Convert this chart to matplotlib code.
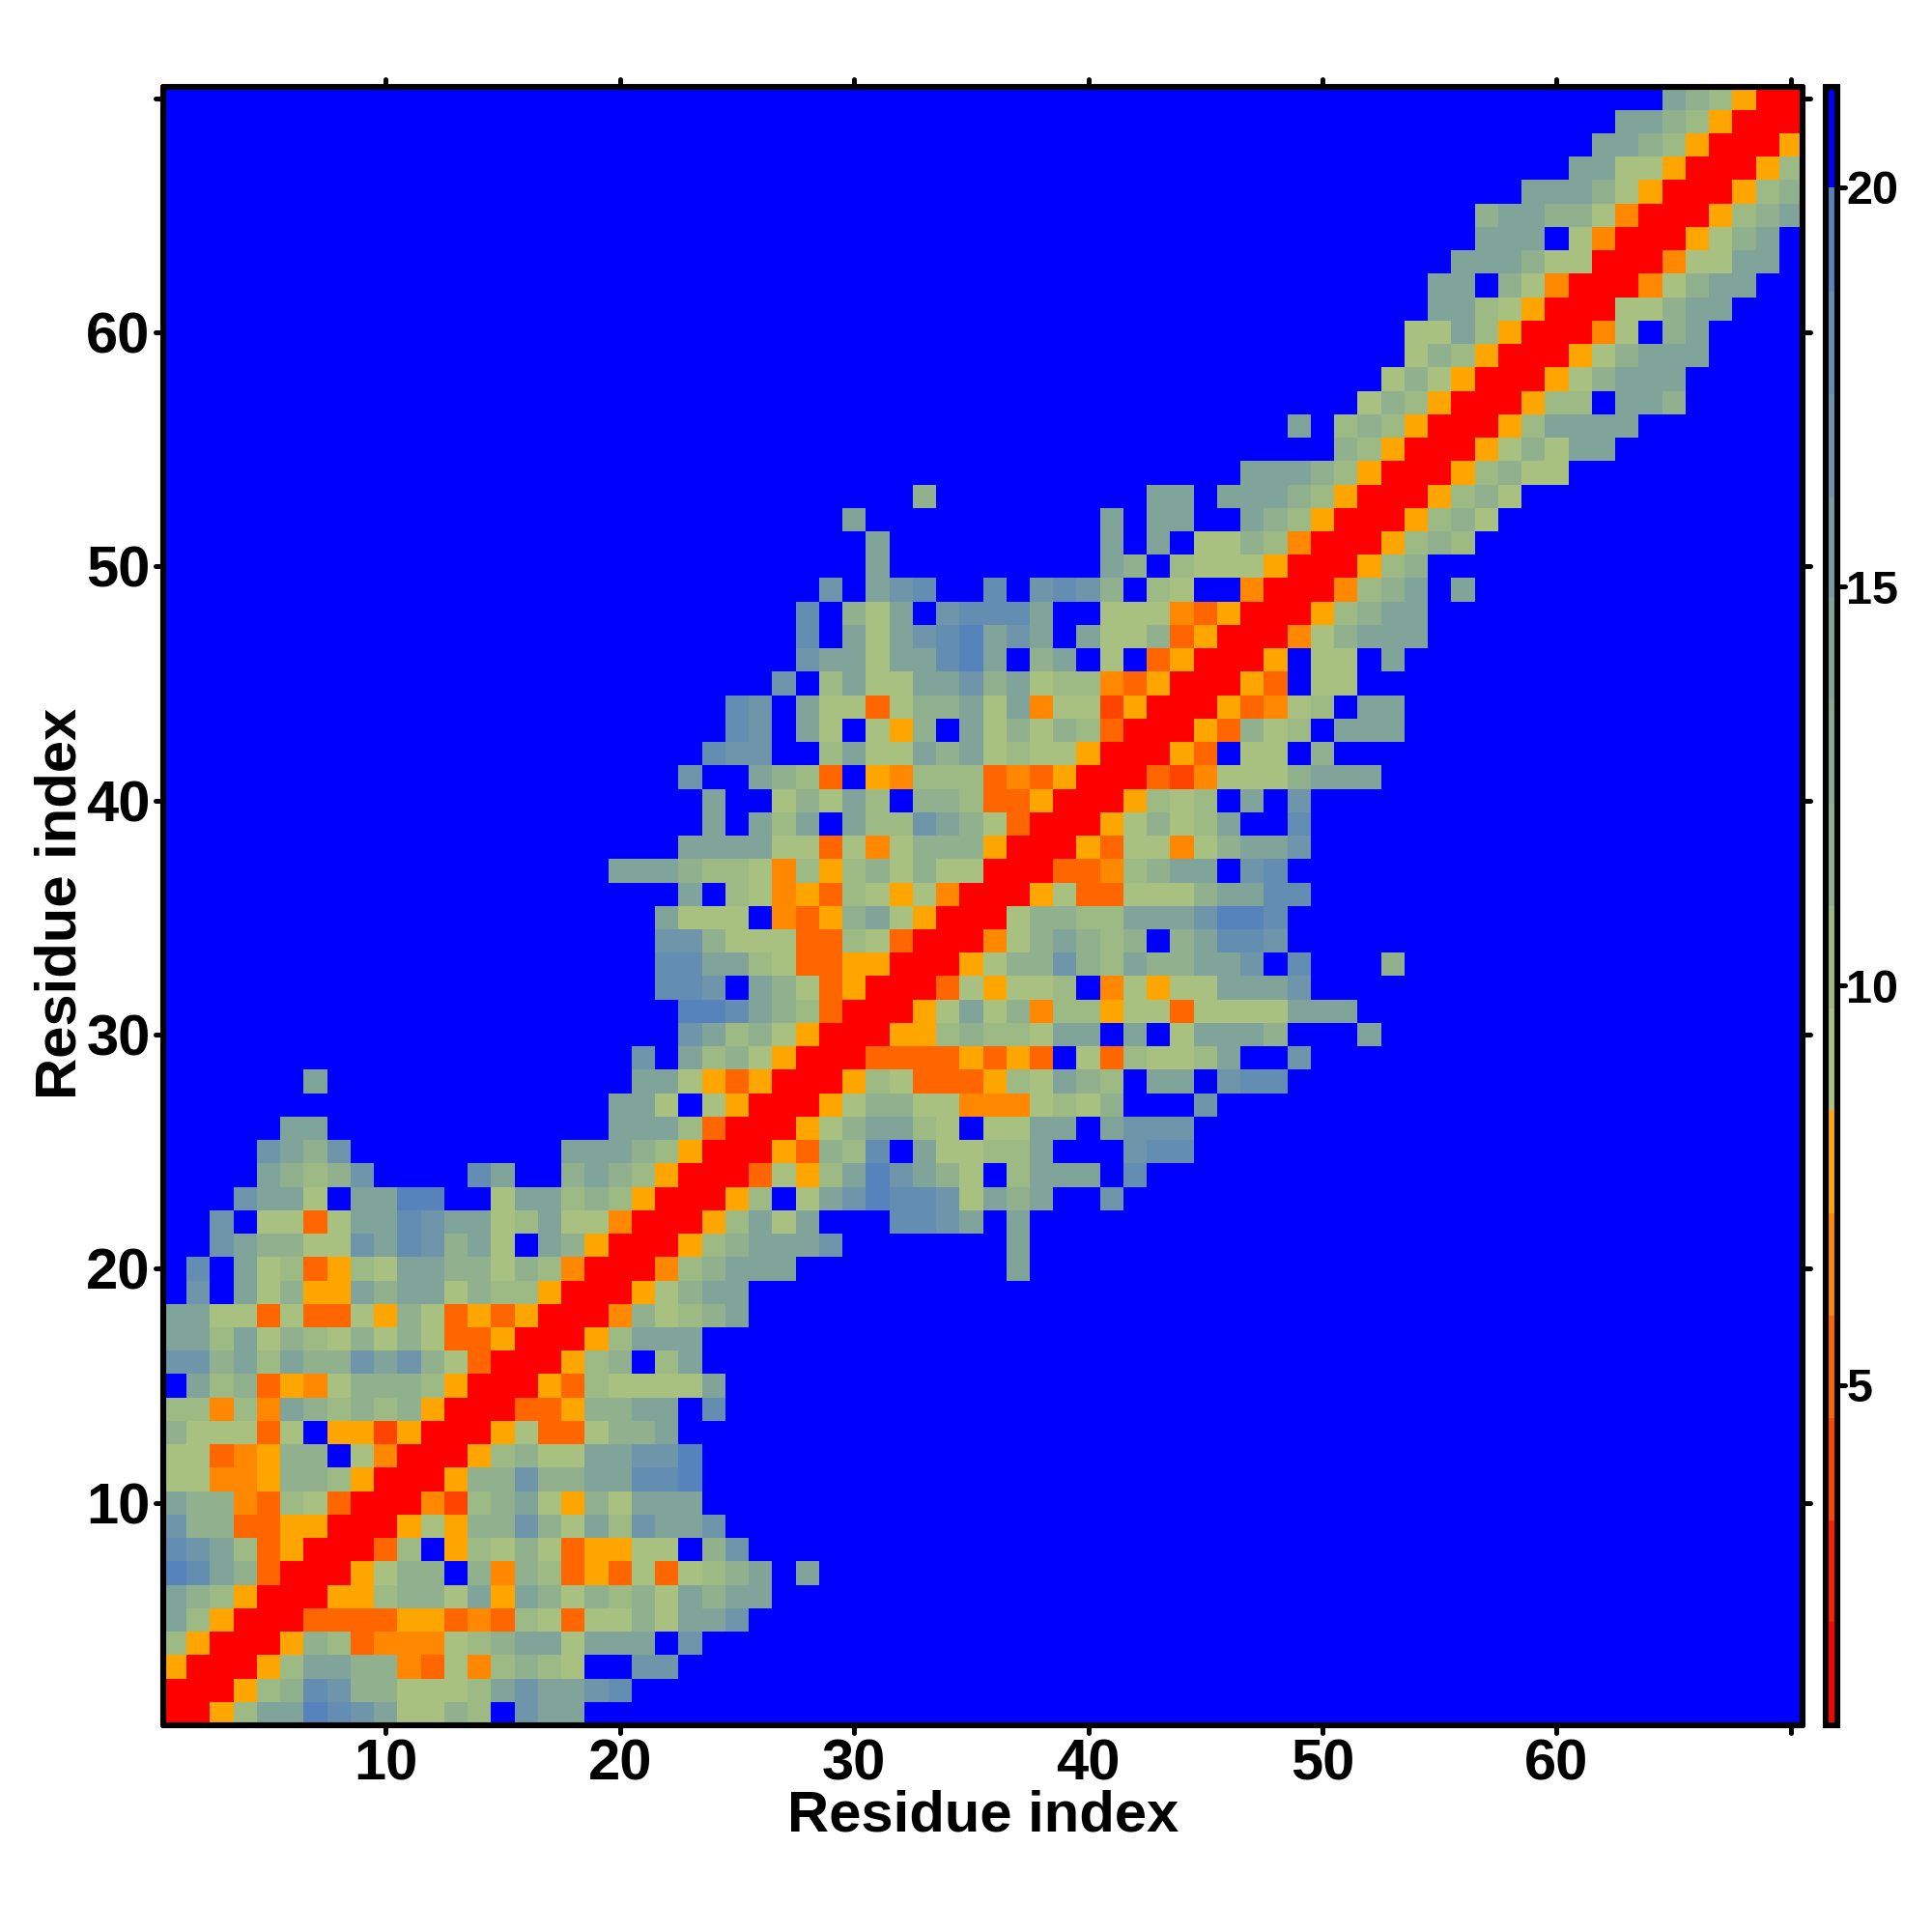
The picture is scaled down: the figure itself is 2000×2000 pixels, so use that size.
import numpy as np
import matplotlib
matplotlib.use('Agg')
import matplotlib.pyplot as plt
from matplotlib.colors import ListedColormap, BoundaryNorm
from matplotlib.markers import MarkerStyle, TICKLEFT, TICKRIGHT, TICKUP, TICKDOWN

plt.rcParams['font.family'] = ['Liberation Sans', 'DejaVu Sans']
plt.rcParams['font.weight'] = 'bold'

# each string is one row, it ends on the diagonal, blue to the left of it is left out
rows = [
	"R", "RR", "ORR", "bORR", "dbORR", "dcbORR", "gfdcDRR", "fedbDORR", "eccDDOORR", "dccFDbaDRR",
	"aaFFOccbORR", "aaDFOcc.aFRR", "caaaDa.OOHORR", "bbFbFdcbcbcORR", ".dbcDOFacccbORR",
	"eecdbdccedecaDRR", "ddbdacbacacaDDORR", "ddaaDaDDaOcaDODORR", ".e.dacOOdcddacbbORR",
	".f.dabDObaddccacbFRR", "..edccaaedfecda.dcORR", "..e.aaDaddfeddabdaaFRR",
	"...edda.ddgg..addbcbORR", "....dcbce....fd..cdcbORR", "....edce.........dddcbORR",
	".....dd............dddbDRR", "dda.aORR", "d.............ddaODORR", "e.dbcaORR", "edbcaORR",
	"ggfdcbDRR", "ffe.dcaDORR", "ffddbaDDOORR", "eecaaaDDbaDRR", "daaa.FDOcdaORR",
	"d.baFODbaOaFRR", "dddcbbaFbObcacaaRR", "ddddaaDaFacccORR", "d.dbd.dbbedcaDRR",
	"d..acadb.ccbDDORR", "e..dcbD.OFbbbDFDORR", "fee..bdaadcdabaaORR", "fe.da.aOc.dacacbDRR",
	"fe.daaDaccdadFaaHORR", "e.bdaaddecdabbFDORR", "eddaddfgd.cd.a.DORR", "f.dadefgded.daacDORR",
	"f.cad.efffd..aaaFDORR", "e.def..f.efec.ba..FRR", "d.........dc.baaaORR",
	"d.........d.d.aacbFRR", "d..........d.dd..dcbORR", "c.........dd.dddcbORR", "dddcbORR",
	"cbORR", "d.bcbORR", "acbORR", "acaORR", "acbORR", "aadbORR", "ddbaORR", "dd.caFRR",
	"dddcaaRR", "ddd.aFRR", "cddccaFRR", "dddcaORR", "ddaaORR", "ddcbORR", "ddcbORR", "dcbORR",
]
values = {'R': 1.4, 'H': 3.95, 'D': 5.2, 'F': 6.5, 'O': 7.8, 'a': 9.1, 'b': 10.4, 'c': 11.6,
	'd': 14.2, 'e': 16.8, 'f': 18.1, 'g': 19.4, '.': 20.6}
level_colors = ['#FF0000', '#FF1E00', '#FF4400', '#FF6600', '#FF8800', '#FFA500', '#A8C181', '#9EBA84',
	'#90B08E', '#88A994', '#80A39A', '#789CA2', '#6F95AB', '#648DB2', '#5783BC', '#0000FF']
level_edges = [0.74, 2.03, 3.31, 4.59, 5.87, 7.15, 8.44, 9.72, 11.0, 12.28, 13.57, 14.85, 16.13, 17.41, 18.7, 20.0, 21.26]
ticks = [10, 20, 30, 40, 50, 60, 70]
tick_labels = ['10', '20', '30', '40', '50', '60', '']
cbar_ticks = [5, 10, 15, 20]

n = len(rows)
mat = np.full((n, n), values['.'])
for r, s in enumerate(rows):
	start = r + 1 - len(s)
	for idx, ch in enumerate(s):
		mat[r, start + idx] = values[ch]
		mat[start + idx, r] = values[ch]

cmap = ListedColormap(level_colors)
norm = BoundaryNorm(level_edges, cmap.N)

fig = plt.figure(figsize=(10, 10), dpi=200)
ax = fig.add_axes([169/2000, 214/2000, 1697/2000, 1696.5/2000])
grid = np.arange(1, n + 1)
mesh = ax.pcolormesh(grid, grid, mat, cmap=cmap, norm=norm, shading='nearest', rasterized=True)
ax.set_xlim(0.5, 70.5)
ax.set_ylim(0.5, 70.5)
ax.set_aspect('auto')
ax.set_xticks(ticks)
ax.set_yticks(ticks)
ax.set_xticklabels(tick_labels)
ax.set_yticklabels(tick_labels)
ax.tick_params(top=True, right=True, direction='out', length=3, width=1.8, pad=1.8, labelsize=21.5)
for side in ax.spines:
	ax.spines[side].set_linewidth(2.2)
	ax.spines[side].set_capstyle('round')

# round tick ends like the original
for t in ax.xaxis.get_major_ticks():
	t.tick1line.set_marker(MarkerStyle(TICKDOWN, capstyle='round'))
	t.tick2line.set_marker(MarkerStyle(TICKUP, capstyle='round'))
for t in ax.yaxis.get_major_ticks():
	t.tick1line.set_marker(MarkerStyle(TICKLEFT, capstyle='round'))
	t.tick2line.set_marker(MarkerStyle(TICKRIGHT, capstyle='round'))

fig.text(1018/2000, 1 - 1880/2000, 'Residue index', ha='center', va='center', fontsize=21.5, fontweight='bold')
fig.text(63/2000, 1 - 935/2000, 'Residue index', ha='center', va='center', rotation=90, fontsize=21.5, fontweight='bold')

cax = fig.add_axes([1889.5/2000, 214/2000, 12/2000, 1696.5/2000])
cb = fig.colorbar(mesh, cax=cax, ticks=cbar_ticks, spacing='proportional', drawedges=False)
cb.outline.set_linewidth(2.2)
cb.ax.tick_params(direction='out', length=3, width=1.8, pad=0.5, labelsize=17.5)
cb.ax.minorticks_off()
for t in cb.ax.yaxis.get_major_ticks():
	t.tick2line.set_marker(MarkerStyle(TICKRIGHT, capstyle='round'))

plt.savefig('out.png', dpi=200)
